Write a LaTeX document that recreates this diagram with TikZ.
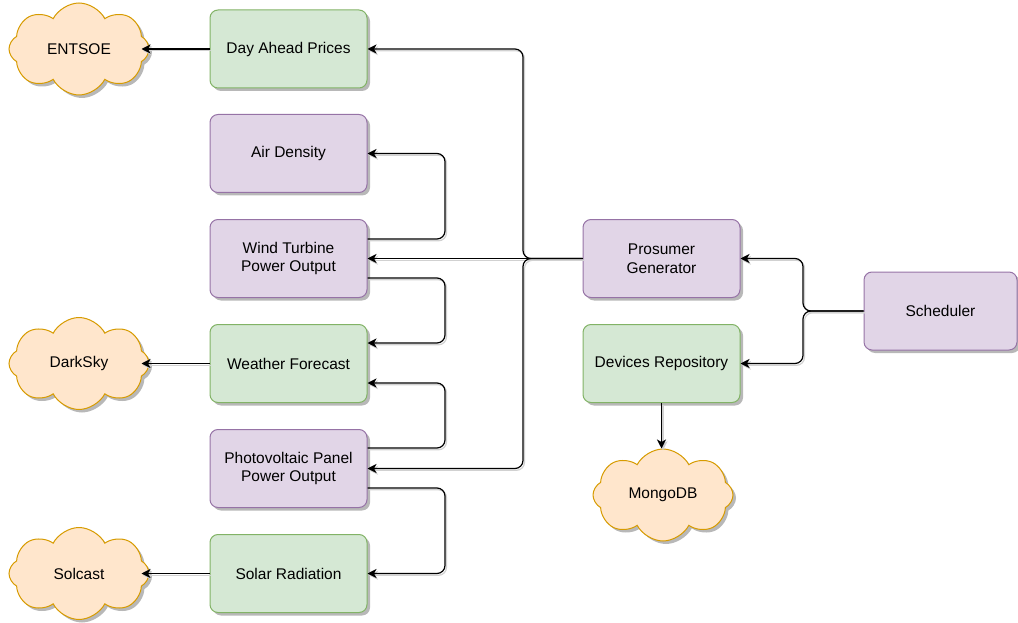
\documentclass[tikz,border=0pt]{standalone}
\usepackage{fontspec}
\setmainfont{Liberation Sans}
\usetikzlibrary{shapes.symbols,shadows,arrows.meta}
\definecolor{pfill}{HTML}{E1D5E7}
\definecolor{pdraw}{HTML}{9673A6}
\definecolor{gfill}{HTML}{D5E8D4}
\definecolor{gdraw}{HTML}{82B366}
\definecolor{cfill}{HTML}{FFE6CC}
\definecolor{cdraw}{HTML}{D79B00}
\tikzset{
  basebox/.style={rectangle, rounded corners=8pt, minimum width=157pt, minimum height=78pt,
    align=center, line width=1pt, font=\fontsize{15.5}{18.5}\selectfont,
    drop shadow={shadow xshift=3pt, shadow yshift=-3pt, fill=black!28, opacity=1}},
  pbox/.style={basebox, fill=pfill, draw=pdraw},
  gbox/.style={basebox, fill=gfill, draw=gdraw},
  cloudbox/.style={cloud, cloud puffs=8, cloud puff arc=125, aspect=1.55, minimum width=140pt,
    minimum height=92pt, inner sep=0pt, fill=cfill, draw=cdraw, line width=1pt,
    font=\fontsize{15.5}{18.5}\selectfont,
    drop shadow={shadow xshift=3pt, shadow yshift=-3pt, fill=black!28, opacity=1}},
  conn/.style={line width=1.2pt, rounded corners=8pt, -{Stealth[length=9pt,width=9pt,inset=2.5pt]},
    preaction={draw=black!18, line width=1.2pt, transform canvas={xshift=1.5pt,yshift=-1.8pt}}},
  toCloud/.style={conn, shorten >=-8pt},
}
\begin{document}
\begin{tikzpicture}[x=1pt,y=-1pt]
\useasboundingbox (0,0) rectangle (1018,623);
% clouds
\node[cloudbox] (entsoe) at (79,49) {ENTSOE};
\node[cloudbox] (darksky) at (79,363.5) {DarkSky};
\node[cloudbox] (solcast) at (79,573.5) {Solcast};
\node[cloudbox] (mongo) at (663,495) {MongoDB};
% boxes
\node[gbox] (dap) at (288.5,49) {Day Ahead Prices};
\node[pbox] (air) at (288.5,153.5) {Air Density};
\node[pbox] (wind) at (288.5,258.5) {Wind Turbine\\Power Output};
\node[gbox] (weather) at (288.5,363.5) {Weather Forecast};
\node[pbox] (pv) at (288.5,468.5) {Photovoltaic Panel\\Power Output};
\node[gbox] (solar) at (288.5,573.5) {Solar Radiation};
\node[pbox] (pros) at (661.5,258.5) {Prosumer\\Generator};
\node[gbox] (dev) at (661.5,363.5) {Devices Repository};
\node[pbox, minimum width=153pt] (sched) at (940.5,311) {Scheduler};
% connectors
\draw[toCloud] (dap.west) -- (entsoe.east);
\draw[toCloud] (weather.west) -- (darksky.east);
\draw[toCloud] (solar.west) -- (solcast.east);
\draw[conn] (pros.west) -- (523,258.5) |- (dap.east);
\draw[conn] (pros.west) -- (wind.east);
\draw[conn] (pros.west) -- (523,258.5) |- (pv.east);
\draw[conn] ([yshift=19.5pt]wind.east) -- (445,239) |- (air.east);
\draw[conn] ([yshift=-19.5pt]wind.east) -- (445,278) |- ([yshift=20.5pt]weather.east);
\draw[conn] ([yshift=20.5pt]pv.east) -- (445,448) |- ([yshift=-19.5pt]weather.east);
\draw[conn] ([yshift=-19.5pt]pv.east) -- (445,488) |- (solar.east);
\draw[conn] (sched.west) -- (803,311) |- (pros.east);
\draw[conn] (sched.west) -- (803,311) |- (dev.east);
\draw[conn] (dev.south) -- (dev.south |- mongo.north);
\end{tikzpicture}
\end{document}
